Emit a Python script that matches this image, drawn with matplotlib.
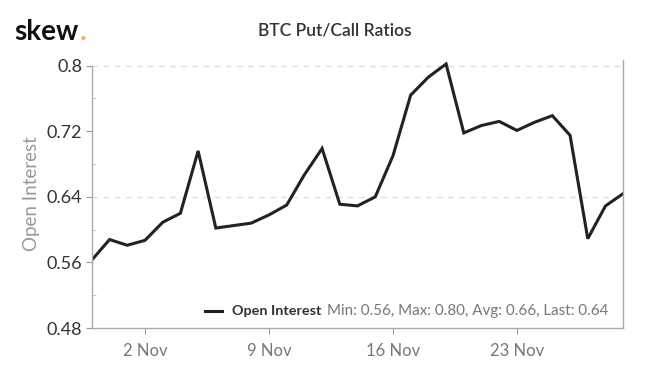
import numpy as np
import pandas as pd
import matplotlib
matplotlib.use("Agg")
import matplotlib.pyplot as plt
import matplotlib.dates as mdates
from matplotlib.ticker import FixedLocator

plt.rcParams['font.family'] = ['Lato', 'DejaVu Sans']

# daily put/call ratio (open interest), 30 Oct - 29 Nov
dates = pd.date_range("2020-10-30", "2020-11-29", freq="D")
ratio = [0.563, 0.588, 0.581, 0.587, 0.609, 0.620, 0.696, 0.602, 0.605, 0.608,
         0.618, 0.630, 0.667, 0.699, 0.631, 0.629, 0.640, 0.690, 0.764, 0.786,
         0.802, 0.718, 0.727, 0.732, 0.721, 0.731, 0.739, 0.715, 0.589, 0.629,
         0.644]
ytick_vals = [0.48, 0.56, 0.64, 0.72, 0.8]
ytick_labels = ["0.48", "0.56", "0.64", "0.72", "0.8"]
xtick_dates = pd.to_datetime(["2020-11-02", "2020-11-09", "2020-11-16", "2020-11-23"])

fig = plt.figure(figsize=(6.56, 3.72), dpi=100)
ax = fig.add_axes([0.140, 0.118, 0.810, 0.721])

ax.plot(dates, ratio, color="#222222", lw=2.2, solid_joinstyle="miter")

ax.set_xlim(dates[0], dates[-1])
ax.set_ylim(0.48, 0.807)

# grid only on every other label
for g in [0.64, 0.8]:
    ax.axhline(g, color="#dddddd", lw=1, ls=(0, (4, 4)), zorder=0)

ax.set_yticks(ytick_vals)
ax.set_yticklabels(ytick_labels)
ax.yaxis.set_minor_locator(FixedLocator([0.52, 0.60, 0.68, 0.76]))
ax.tick_params(axis="y", which="major", length=4, color="#999999",
               labelsize=13, labelcolor="#333333", pad=3)
ax.tick_params(axis="y", which="minor", length=3, color="#bbbbbb", direction="in")

ax.set_xticks(xtick_dates)
ax.xaxis.set_major_formatter(mdates.DateFormatter("%-d Nov"))
ax.tick_params(axis="x", length=4, color="#999999", labelsize=12,
               labelcolor="#777777", pad=7)

for s in ["left", "right", "bottom"]:
    ax.spines[s].set_color("#aaaaaa")
    ax.spines[s].set_linewidth(1)
ax.spines["top"].set_visible(False)
ax.spines["left"].set_bounds(0.48, 0.8)

ax.set_ylabel("Open Interest", color="#999999", fontsize=13.5, labelpad=5)

fig.text(0.511, 0.918, "BTC Put/Call Ratios", ha="center", va="center",
         fontsize=12.5, color="#333333", fontweight="semibold")
logo = fig.text(0.022, 0.915, "skew", ha="left", va="center", fontsize=20,
                fontweight="bold", color="#111111")
ax.annotate(".", xy=(1, 0), xycoords=logo, xytext=(1, 0), textcoords="offset points",
            ha="left", va="bottom", fontsize=20, fontweight="bold", color="#f0b34a",
            annotation_clip=False)

# legend line with stats
r = np.array(ratio)
stats = "Min: %.2f, Max: %.2f, Avg: %.2f, Last: %.2f" % (r.min(), r.max(), r.mean(), r[-1])
ax.plot([0.213, 0.245], [0.065, 0.065], transform=ax.transAxes, color="#222222", lw=2.2)
name = ax.text(0.264, 0.065, "Open Interest", transform=ax.transAxes, ha="left", va="center",
               fontsize=10.4, fontweight="bold", color="#333333")
ax.annotate(stats, xy=(1, 0.5), xycoords=name, xytext=(4, 0), textcoords="offset points",
            ha="left", va="center", fontsize=10.9, color="#777777")

fig.savefig("out.png", dpi=100, facecolor="white")
